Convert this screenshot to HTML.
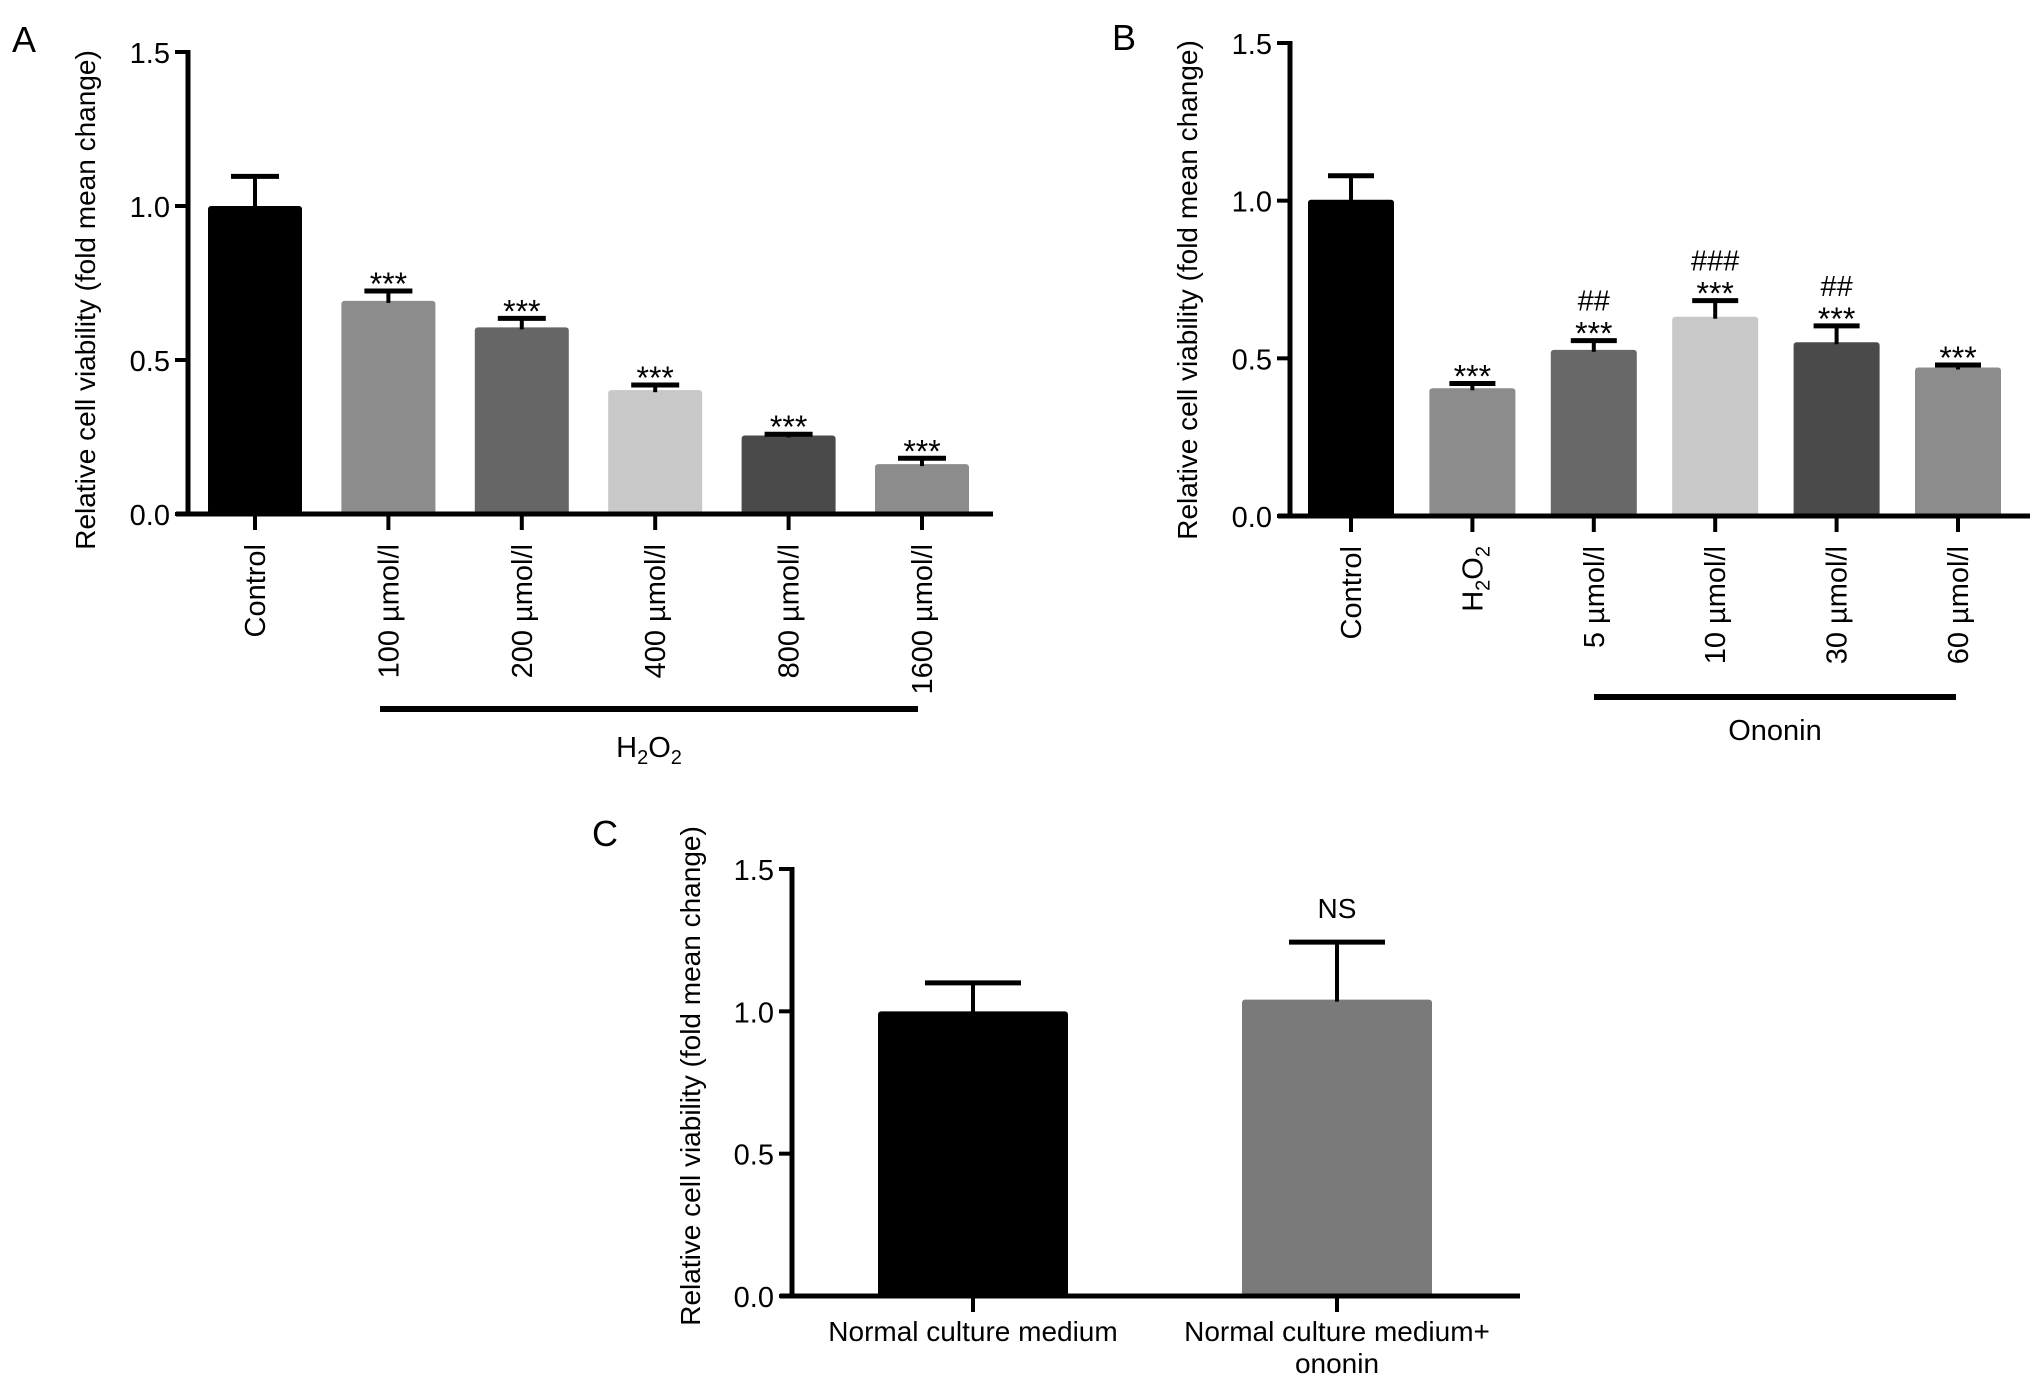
<!DOCTYPE html>
<html><head><meta charset="utf-8"><style>
html,body{margin:0;padding:0;background:#fff;}
svg{display:block;font-family:"Liberation Sans",Arial,sans-serif;}
</style></head><body>
<svg id="fig" width="2032" height="1384" viewBox="0 0 2032 1384"></svg>
<script>
// Panel A data
const catsA = ["Control","100 µmol/l","200 µmol/l","400 µmol/l","800 µmol/l","1600 µmol/l"];
const valsA = [1.0,0.692,0.606,0.402,0.255,0.162];
const errsA = [0.096,0.032,0.029,0.017,0.004,0.019];
const sigA = ["","***","***","***","***","***"];
// Panel B data
const catsB = ["Control","H2O2","5 µmol/l","10 µmol/l","30 µmol/l","60 µmol/l"];
const valsB = [1.003,0.405,0.527,0.632,0.551,0.471];
const errsB = [0.076,0.015,0.029,0.051,0.052,0.008];
const sigB = ["","***","***","***","***","***"];
const hashB = ["","","##","###","##",""];
// Panel C data
const catsC = ["Normal culture medium","Normal culture medium+|ononin"];
const valsC = [1.0,1.041];
const errsC = [0.10,0.202];
const sigC = ["","NS"];
const ticks = [0,0.5,1.0,1.5];
const tickLabels = ["0.0","0.5","1.0","1.5"];

const NS="http://www.w3.org/2000/svg";
const svg=document.getElementById('fig');
function mk(tag,attrs,parent){const e=document.createElementNS(NS,tag);for(const k in attrs)e.setAttribute(k,attrs[k]);(parent||svg).appendChild(e);return e;}

function panel(cfg){
  const g=mk('g',{});
  
  
  const y=v=>cfg.y0-(cfg.y0-cfg.y15)*v/1.5;
  const L=mk('text',{x:cfg.letterX,y:cfg.letterY,'font-size':36,fill:'#000'},g);L.textContent=cfg.letter;
  
  
  const n=cfg.vals.length;
  for(let i=0;i<n;i++){
    const cx=cfg.x0+cfg.step*i;
    const top=y(cfg.vals[i]);
    const et=y(cfg.vals[i]+cfg.errs[i]);
    const b=mk('rect',{x:cx-cfg.bw/2,y:top,width:cfg.bw,height:cfg.y0-top,fill:cfg.colors[i],rx:3},g);
    
    
    const el=mk('line',{x1:cx,x2:cx,y1:top+2,y2:et,stroke:'#000','stroke-width':4},g);
    
    
    mk('line',{x1:cx-cfg.cap,x2:cx+cfg.cap,y1:et,y2:et,stroke:'#000','stroke-width':5},g);
    if(cfg.sig[i]){
      const isNS=cfg.sig[i]==="NS";
      const s=mk('text',{x:cx,y:isNS?et-24:et+4,'font-size':isNS?28:32,'text-anchor':'middle',fill:'#000'},g);
      s.textContent=cfg.sig[i];
      
      
    }
    if(cfg.hash && cfg.hash[i]){
      const h=mk('text',{x:cx,y:et-30,'font-size':29,'text-anchor':'middle',fill:'#000'},g);
      h.textContent=cfg.hash[i];
      
      
    }
    mk('line',{x1:cx,x2:cx,y1:cfg.y0,y2:cfg.y0+16,stroke:'#000','stroke-width':4},g);
    if(cfg.rot){
      const t=mk('text',{x:0,y:0,'font-size':29,'text-anchor':'end',fill:'#000',transform:`translate(${cx+10},${cfg.y0+30}) rotate(-90)`},g);
      
      
      const lab=cfg.cats[i];
      if(lab==="H2O2"){t.innerHTML='H<tspan font-size="20" dy="7">2</tspan><tspan dy="-7">O</tspan><tspan font-size="20" dy="7">2</tspan>';}
      else t.textContent=lab;
    } else {
      const parts=cfg.cats[i].split('|');
      parts.forEach((p,k)=>{
        const t=mk('text',{x:cx,y:cfg.y0+45+k*32,'font-size':28,'text-anchor':'middle',fill:'#000'},g);
        t.textContent=p;
        
        
      });
    }
  }
  const ya=mk('line',{x1:cfg.ax,x2:cfg.ax,y1:cfg.y15-2,y2:cfg.y0+2,stroke:'#000','stroke-width':5},g);
  
  
  const xa=mk('line',{x1:cfg.ax-12,x2:cfg.axEnd,y1:cfg.y0,y2:cfg.y0,stroke:'#000','stroke-width':5},g);
  
  
  ticks.forEach((tv,k)=>{
    mk('line',{x1:cfg.ax-13,x2:cfg.ax,y1:y(tv),y2:y(tv),stroke:'#000','stroke-width':4},g);
    const t=mk('text',{x:cfg.ax-18,y:y(tv)+11,'font-size':29,'text-anchor':'end',fill:'#000'},g);
    t.textContent=tickLabels[k];
    
    
  });
  const yt=mk('text',{x:0,y:0,'font-size':28,'text-anchor':'middle',fill:'#000',transform:`translate(${cfg.titleX},${cfg.titleY}) rotate(-90)`},g);
  yt.textContent='Relative cell viability (fold mean change)';
  
  
  if(cfg.bracket){
    const br=mk('line',{x1:cfg.bracket[0],x2:cfg.bracket[1],y1:cfg.bracket[2],y2:cfg.bracket[2],stroke:'#000','stroke-width':6},g);
    
    
    const bl=mk('text',{x:(cfg.bracket[0]+cfg.bracket[1])/2,y:cfg.bracket[3],'font-size':29,'text-anchor':'middle',fill:'#000'},g);
    
    
    if(cfg.bracketLabel==="H2O2") bl.innerHTML='H<tspan font-size="20" dy="7">2</tspan><tspan dy="-7">O</tspan><tspan font-size="20" dy="7">2</tspan>';
    else bl.textContent=cfg.bracketLabel;
  }
}

panel({name:'panel-a',letter:'A',letterX:12,letterY:52,cats:catsA,vals:valsA,errs:errsA,sig:sigA,
  colors:['#000','#8c8c8c','#666666','#c8c8c8','#4a4a4a','#8c8c8c'],
  ax:188,axEnd:993,y0:514,y15:52,x0:255,step:133.4,bw:94,cap:24,rot:true,titleX:95,titleY:300,
  bracket:[380,918,709,757],bracketLabel:'H2O2'});
panel({name:'panel-b',letter:'B',letterX:1112,letterY:50,cats:catsB,vals:valsB,errs:errsB,sig:sigB,hash:hashB,
  colors:['#000','#8c8c8c','#686868','#c8c8c8','#4a4a4a','#8c8c8c'],
  ax:1290,axEnd:2030,y0:516,y15:43,x0:1351,step:121.4,bw:86,cap:23,rot:true,titleX:1197,titleY:290,
  bracket:[1594,1956,697,740],bracketLabel:'Ononin'});
panel({name:'panel-c',letter:'C',letterX:592,letterY:846,cats:catsC,vals:valsC,errs:errsC,sig:sigC,
  colors:['#000','#7a7a7a'],
  ax:792,axEnd:1520,y0:1296,y15:869,x0:973,step:364,bw:190,cap:48,rot:false,titleX:700,titleY:1076});
</script>
</body></html>
